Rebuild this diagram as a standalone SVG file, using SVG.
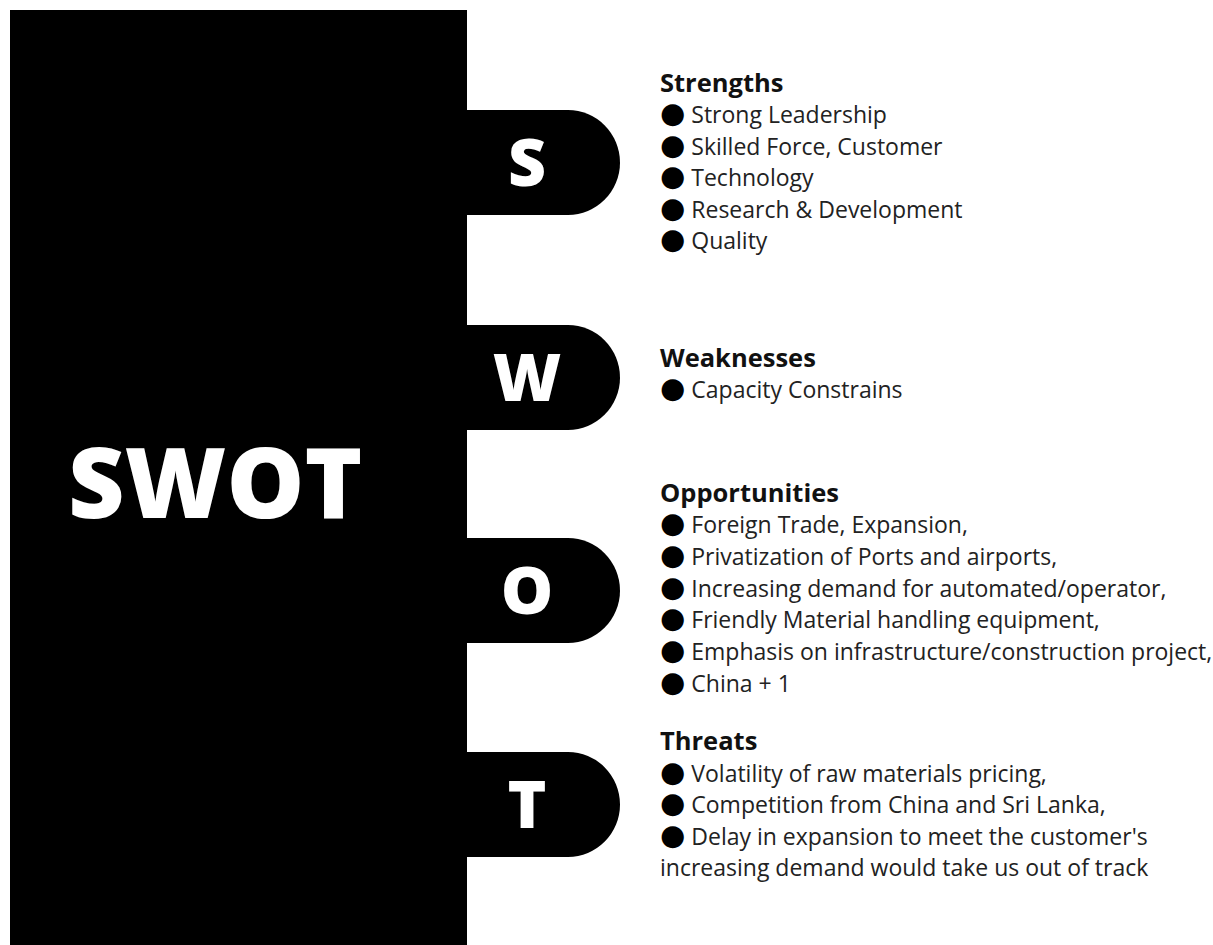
<svg xmlns="http://www.w3.org/2000/svg" width="1213" height="945" viewBox="0 0 1213 945">
<style>
.tab{fill:#000}
.letter{font-family:"Open Sans",sans-serif;font-weight:800;font-size:66px;fill:#fff;text-anchor:middle}
.big{font-family:"Open Sans",sans-serif;font-weight:800;font-size:98px;fill:#fff}
.h{font-family:"Open Sans",sans-serif;font-weight:700;font-size:25.5px;fill:#111}
.t{font-family:"Open Sans",sans-serif;font-size:23px;fill:#222}
.b{font-family:"DejaVu Sans",sans-serif;font-size:29px;fill:#000}
</style>
<rect width="1213" height="945" fill="#fff"/>
<g id="main">
<rect x="10" y="10" width="457" height="935" fill="#000"/>
<text class="big" x="68" y="518">SWOT</text>
</g>
<g id="tab-s">
<path class="tab" d="M460 110 H568 A52 52.5 0 0 1 568 215 H460 Z"/>
<text class="letter" x="527" y="186">S</text>
</g>
<g id="tab-w">
<path class="tab" d="M460 325 H568 A52 52.5 0 0 1 568 430 H460 Z"/>
<text class="letter" x="527" y="401">W</text>
</g>
<g id="tab-o">
<path class="tab" d="M460 538 H568 A52 52.5 0 0 1 568 643 H460 Z"/>
<text class="letter" x="527" y="614">O</text>
</g>
<g id="tab-t">
<path class="tab" d="M460 752 H568 A52 52.5 0 0 1 568 857 H460 Z"/>
<text class="letter" x="527" y="828">T</text>
</g>
<g id="strengths">
<text class="h" x="660" y="92">Strengths</text>
<text class="t" x="660" y="123"><tspan class="b">●</tspan> Strong Leadership</text>
<text class="t" x="660" y="154.5"><tspan class="b">●</tspan> Skilled Force, Customer</text>
<text class="t" x="660" y="186"><tspan class="b">●</tspan> Technology</text>
<text class="t" x="660" y="217.5"><tspan class="b">●</tspan> Research &amp; Development</text>
<text class="t" x="660" y="249"><tspan class="b">●</tspan> Quality</text>
</g>
<g id="weaknesses">
<text class="h" x="660" y="367">Weaknesses</text>
<text class="t" x="660" y="398"><tspan class="b">●</tspan> Capacity Constrains</text>
</g>
<g id="opportunities">
<text class="h" x="660" y="502">Opportunities</text>
<text class="t" x="660" y="533"><tspan class="b">●</tspan> Foreign Trade, Expansion,</text>
<text class="t" x="660" y="564.8"><tspan class="b">●</tspan> Privatization of Ports and airports,</text>
<text class="t" x="660" y="596.6"><tspan class="b">●</tspan> Increasing demand for automated/operator,</text>
<text class="t" x="660" y="628.4"><tspan class="b">●</tspan> Friendly Material handling equipment,</text>
<text class="t" x="660" y="660.2"><tspan class="b">●</tspan> Emphasis on infrastructure/construction project,</text>
<text class="t" x="660" y="692"><tspan class="b">●</tspan> China + 1</text>
</g>
<g id="threats">
<text class="h" x="660" y="750">Threats</text>
<text class="t" x="660" y="781.5"><tspan class="b">●</tspan> Volatility of raw materials pricing,</text>
<text class="t" x="660" y="813"><tspan class="b">●</tspan> Competition from China and Sri Lanka,</text>
<text class="t" x="660" y="844.5"><tspan class="b">●</tspan> Delay in expansion to meet the customer's</text>
<text class="t" x="660" y="876">increasing demand would take us out of track</text>
</g>
<g id="connectors"></g>
</svg>
